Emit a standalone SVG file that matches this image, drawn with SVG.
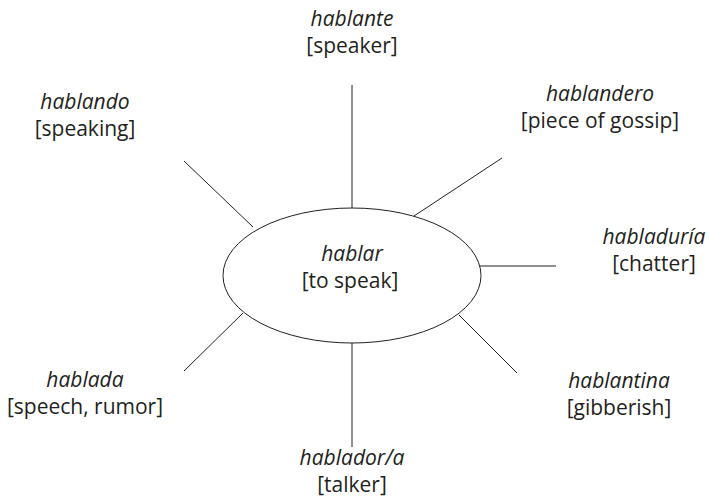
<svg xmlns="http://www.w3.org/2000/svg" width="709" height="500" viewBox="0 0 709 500">
<style>
text{font-family:"Open Sans","Noto Sans",sans-serif;font-size:21px;fill:#231f20;text-anchor:middle}
.it{font-style:italic}
.ln{stroke:#231f20;stroke-width:1;fill:none}
</style>
<rect width="709" height="500" fill="#fff"/>
<g id="connectors">
<line class="ln" x1="352" y1="85" x2="352" y2="208"/>
<line class="ln" x1="502" y1="158" x2="414" y2="216"/>
<line class="ln" x1="480" y1="266" x2="556" y2="266"/>
<line class="ln" x1="459" y1="315" x2="517" y2="373"/>
<line class="ln" x1="352" y1="343" x2="352" y2="447"/>
<line class="ln" x1="243" y1="313" x2="184" y2="371"/>
<line class="ln" x1="184" y1="161" x2="253" y2="227"/>
</g>
<g id="hablar">
<ellipse cx="352" cy="275.5" rx="129" ry="67.5" fill="#fff" stroke="#231f20" stroke-width="1"/>
<text x="352" y="261" class="it">hablar</text>
<text x="350" y="288">[to speak]</text>
</g>
<g id="hablante">
<text x="352" y="26" class="it">hablante</text>
<text x="352" y="53">[speaker]</text>
</g>
<g id="hablandero">
<text x="600" y="101" class="it">hablandero</text>
<text x="600" y="128">[piece of gossip]</text>
</g>
<g id="habladuria">
<text x="654" y="244" class="it">habladuría</text>
<text x="654" y="271">[chatter]</text>
</g>
<g id="hablantina">
<text x="619" y="388" class="it">hablantina</text>
<text x="619" y="415">[gibberish]</text>
</g>
<g id="hablador">
<text x="352" y="465" class="it">hablador/a</text>
<text x="352" y="492">[talker]</text>
</g>
<g id="hablada">
<text x="85" y="387" class="it">hablada</text>
<text x="85" y="414">[speech, rumor]</text>
</g>
<g id="hablando">
<text x="85" y="109" class="it">hablando</text>
<text x="85" y="136">[speaking]</text>
</g>
</svg>
